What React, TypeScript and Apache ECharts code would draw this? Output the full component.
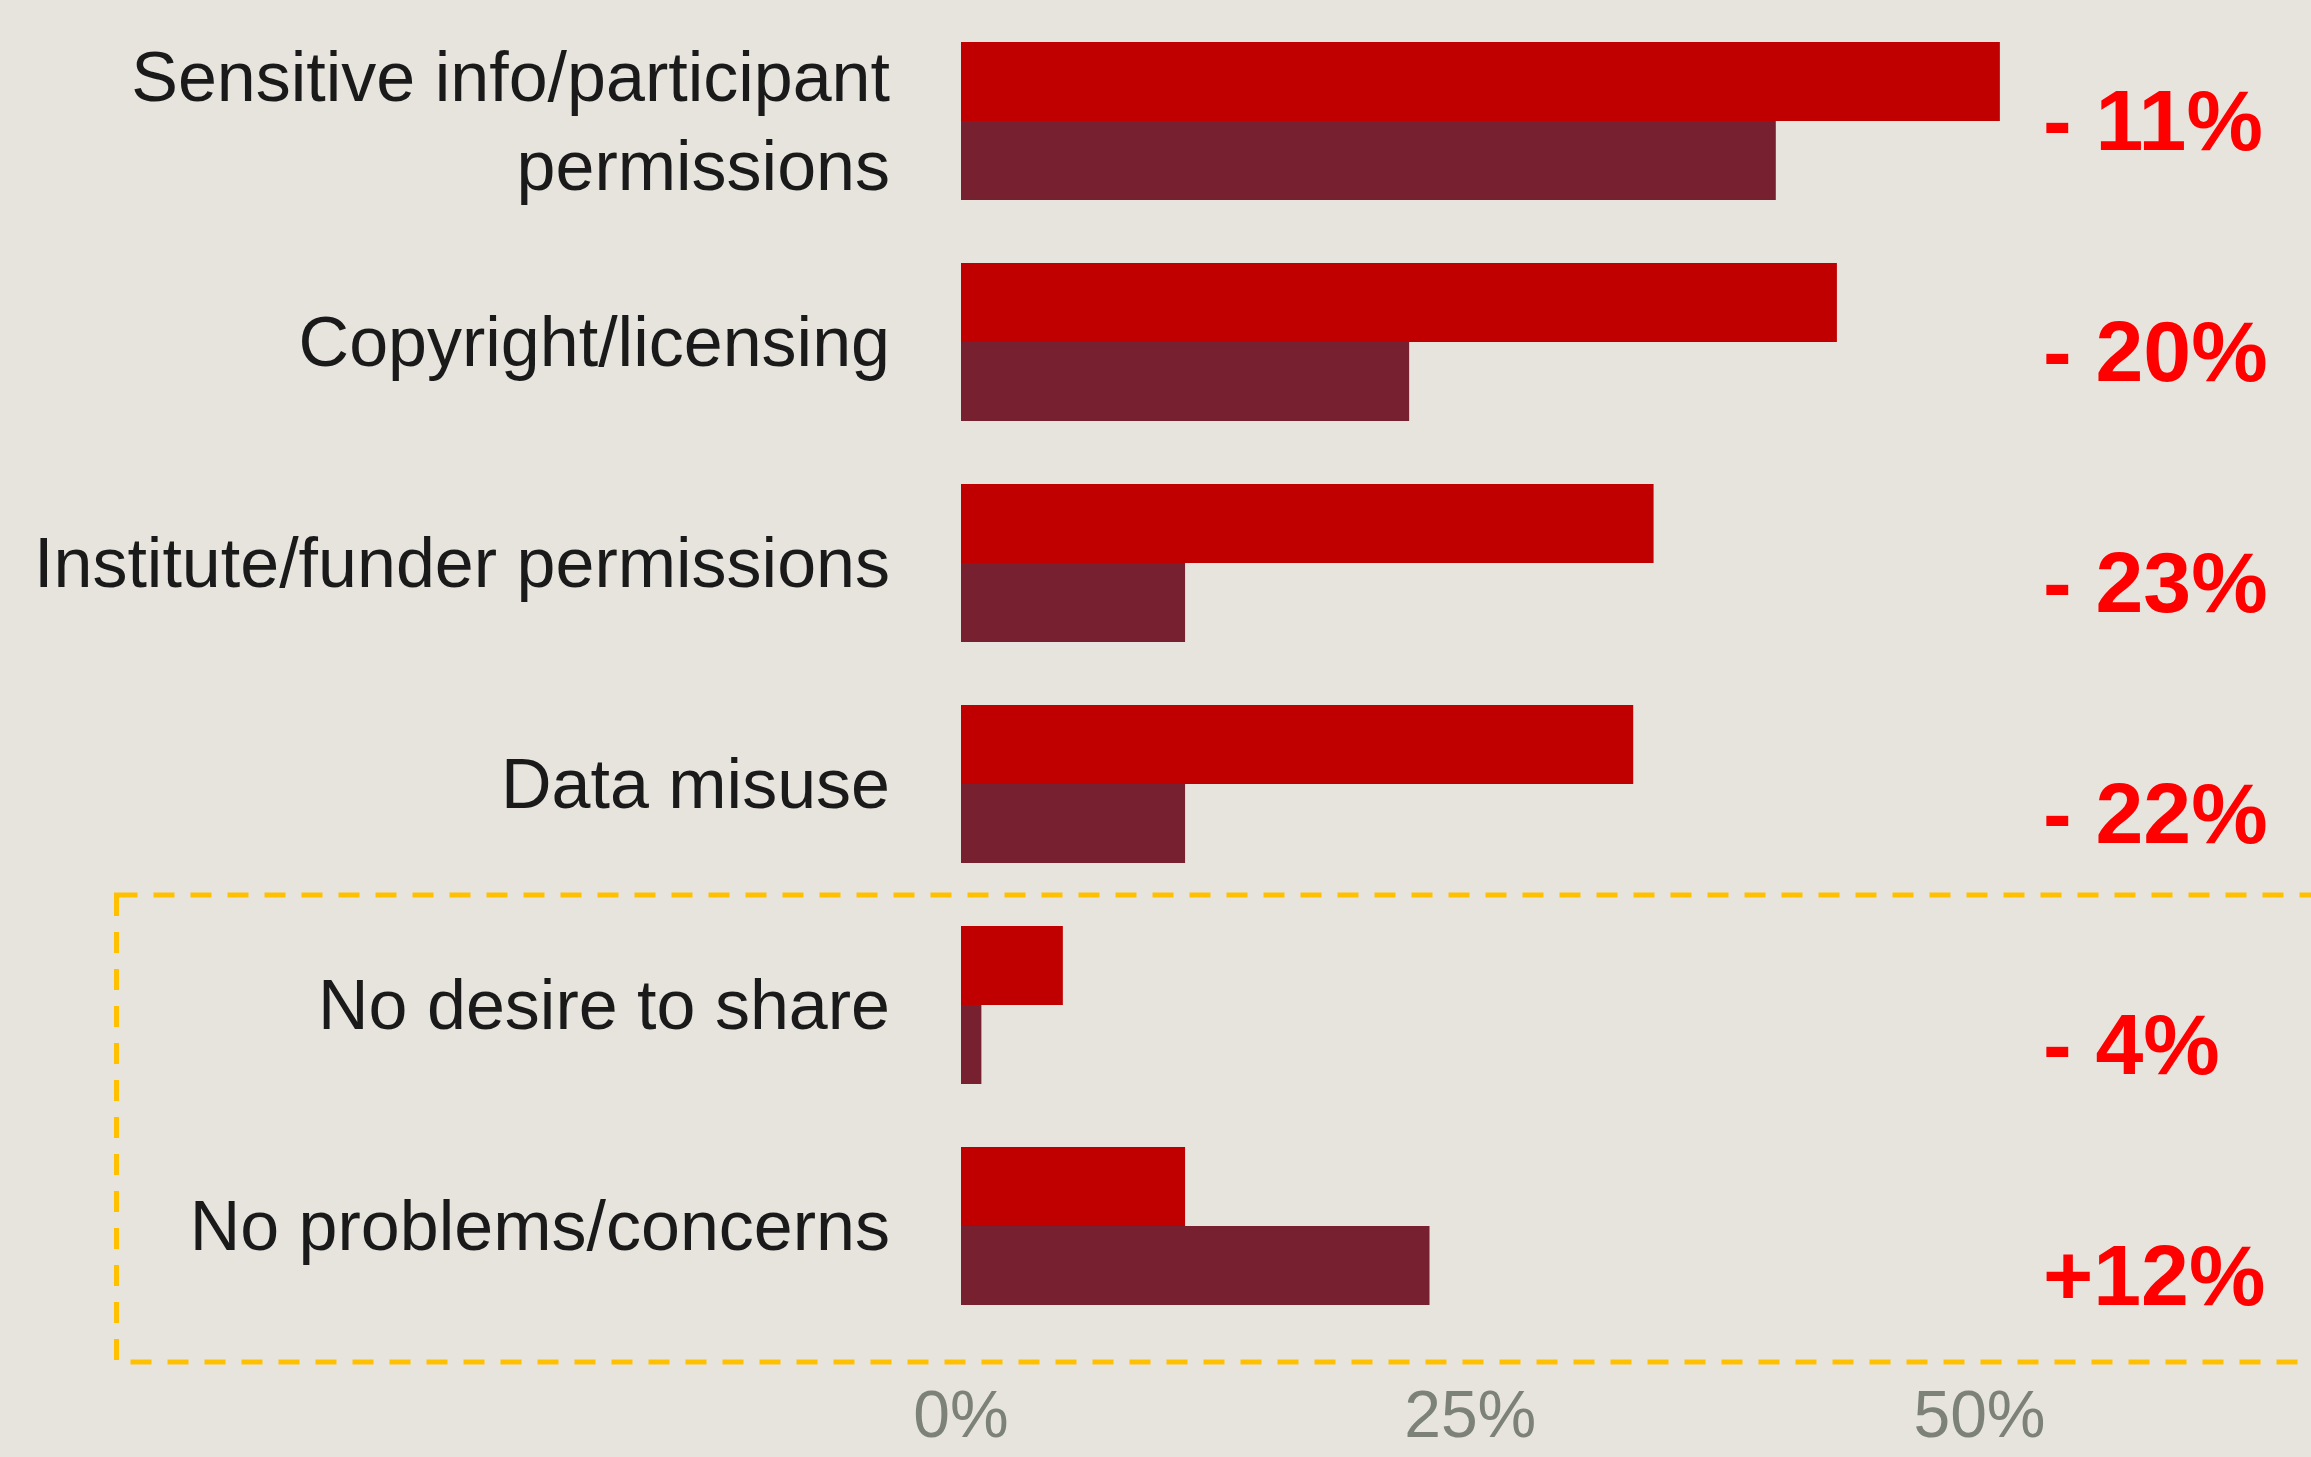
import React, { useEffect, useRef } from "react";
import * as echarts from "echarts";

const categories = [
  "Sensitive info/participant\npermissions",
  "Copyright/licensing",
  "Institute/funder permissions",
  "Data misuse",
  "No desire to share",
  "No problems/concerns",
];
const before = [51, 43, 34, 33, 5, 11];
const after = [40, 22, 11, 11, 1, 23];
const changes = ["- 11%", "- 20%", "- 23%", "- 22%", "- 4%", "+12%"];
const tickValues = [0, 25, 50];

const FONT = "'Liberation Sans', Arial, sans-serif";

export default function App() {
  const ref = useRef<HTMLDivElement>(null);
  useEffect(() => {
    if (!ref.current) return;
    const chart = echarts.init(ref.current, undefined, { renderer: "svg" });
    const changeTexts = changes.map((t, i) => ({
      type: "text",
      x: 2043,
      y: 120 + i * 231,
      style: {
        text: t,
        fill: "#FF0000",
        font: `bold 86px ${FONT}`,
        textAlign: "left",
        textVerticalAlign: "middle",
      },
    }));
    chart.setOption({
      animation: false,
      backgroundColor: "#E7E4DE",
      grid: { left: 961, top: 10.5, width: 60 * 20.37, height: 1326 },
      xAxis: {
        type: "value",
        min: 0,
        max: 60,
        interval: 25,
        splitLine: { show: false },
        axisLine: { show: false },
        axisTick: { show: false },
        axisLabel: {
          showMaxLabel: false,
          margin: 48,
          lineHeight: 58,
          color: "#7D8278",
          fontSize: 66,
          fontFamily: FONT,
          formatter: (v: number) => (tickValues.includes(v) ? v + "%" : ""),
        },
      },
      yAxis: {
        type: "category",
        inverse: true,
        data: categories,
        axisLine: { show: false },
        axisTick: { show: false },
        axisLabel: {
          margin: 71,
          color: "#1A1A1A",
          fontSize: 70,
          lineHeight: 89,
          fontFamily: FONT,
          align: "right",
        },
      },
      series: [
        {
          type: "bar",
          data: before,
          barGap: "0%",
          barCategoryGap: "28.5%",
          itemStyle: { color: "#C00000" },
        },
        {
          type: "bar",
          data: after,
          barGap: "0%",
          barCategoryGap: "28.5%",
          itemStyle: { color: "#762030" },
        },
      ],
      graphic: [
        {
          type: "rect",
          shape: { x: 116.5, y: 895, width: 2300, height: 467 },
          style: {
            fill: "none",
            stroke: "#FFC000",
            lineWidth: 5,
            lineDash: [21, 16],
          },
          silent: true,
        },
        ...changeTexts,
      ],
    });
    return () => chart.dispose();
  }, []);
  return (
    <div
      ref={ref}
      style={{ position: "fixed", left: 0, top: 0, width: 2311, height: 1457 }}
    />
  );
}
